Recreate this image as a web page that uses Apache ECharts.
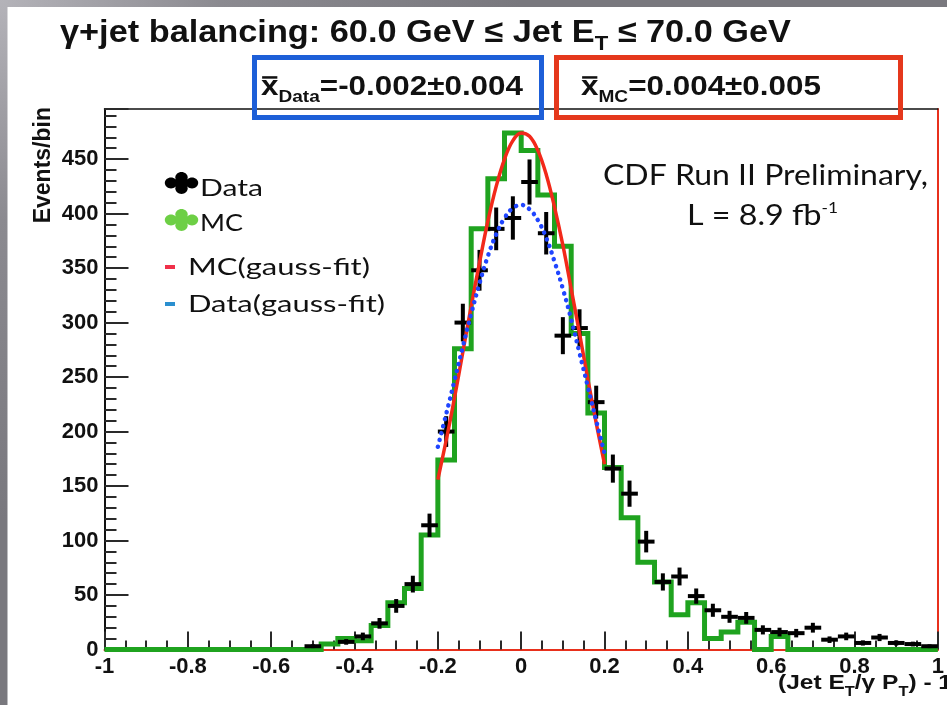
<!DOCTYPE html>
<html><head><meta charset="utf-8">
<script src="https://cdn.jsdelivr.net/npm/echarts@6/dist/echarts.min.js"></script>
<style>
html,body{margin:0;padding:0;width:947px;height:705px;overflow:hidden;
background: radial-gradient(circle at 0 0, #b4b3b9 0px, #8b8a90 220px, #79787e 520px);}
#c{position:absolute;left:0;top:0;width:947px;height:705px;}
</style></head><body><div id="c"></div>
<script>
// ---------------- data ----------------
const binCenters = [-0.98,-0.94,-0.90,-0.86,-0.82,-0.78,-0.74,-0.70,-0.66,-0.62,
  -0.58,-0.54,-0.50,-0.46,-0.42,-0.38,-0.34,-0.30,-0.26,-0.22,
  -0.18,-0.14,-0.10,-0.06,-0.02,0.02,0.06,0.10,0.14,0.18,
  0.22,0.26,0.30,0.34,0.38,0.42,0.46,0.50,0.54,0.58,
  0.62,0.66,0.70,0.74,0.78,0.82,0.86,0.90,0.94,0.98];
const binHalfWidth = 0.02;
const mcCounts = [0,0,0,0,0,0,0,0,0,0,
  0,0,0,5,10,8,22,43,56,105,
  174,276,386,432,474,458,417,370,290,217,
  167,121,80,62,32,43,10,16,25,0,
  12,0,0,0,0,0,0,0,0,0];
const dataCounts = [null,null,null,null,null,null,null,null,null,null,
  null,null,3,null,7,12,24,40,60,114,
  200,300,348,386,396,429,382,288,295,227,
  166,143,99,62,67,49,36,30,29,18,
  16,15,20,9,12,6,11,6,5,3];
const dataErrors = [null,null,null,null,null,null,null,null,null,null,
  null,null,1.7,null,2.6,3.5,4.9,6.3,7.7,10.7,
  14.1,17.3,18.7,19.6,19.9,20.7,19.5,17.0,17.2,15.1,
  12.9,12.0,9.9,7.9,8.2,7.0,6.0,5.5,5.4,4.2,
  4.0,3.9,4.5,3.0,3.5,2.4,3.3,2.4,2.2,1.7];
const fitX = [-0.20,-0.18,-0.16,-0.14,-0.12,-0.10,-0.08,-0.06,-0.04,-0.02,0.00,
  0.02,0.04,0.06,0.08,0.10,0.12,0.14,0.16,0.18,0.20];
const mcFit = [156,192,231,273,315,355,393,425,450,467,474,471,458,436,406,371,331,290,248,208,170];
const dataFit = [186,216,247,278,308,336,361,381,396,405,408,404,394,378,356,331,303,272,241,210,180];
const xTickLabels = ['-1','-0.8','-0.6','-0.4','-0.2','0','0.2','0.4','0.6','0.8','1'];
const yTickLabels = ['0','50','100','150','200','250','300','350','400','450'];

// ---------------- text helpers ----------------
const mctx = document.createElement('canvas').getContext('2d');
function fontStr(p){ return (p.weight||'normal')+' '+p.size+'px '+(p.family||'"Liberation Sans"'); }
function tw(p){ mctx.font = fontStr(p); return mctx.measureText(p.t).width; }
function textRun(parts, o){
  const widths = parts.map(tw);
  const total = widths.reduce((a,b)=>a+b,0);
  const s = o.width ? o.width/total : (o.scale||1);
  let x0 = o.x;
  if (o.align==='center') x0 -= total*s/2; else if (o.align==='right') x0 -= total*s;
  const children = []; let cx = 0;
  parts.forEach((p,i)=>{
    children.push({type:'text', x:cx, y:o.baseline + (p.dy||0) - 0.31*p.size,
      style:{text:p.t, font:fontStr(p), fill:p.fill||o.fill||'#111', align:'left', verticalAlign:'middle'}});
    if (o.overline===i){
      const yb = o.baseline - 0.52*p.size - 4;
      children.push({type:'line', shape:{x1:cx+1, y1:yb, x2:cx+widths[i]-1, y2:yb}, style:{stroke:'#111', lineWidth:2.5}});
    }
    cx += widths[i];
  });
  return {type:'group', x:x0, y:0, scaleX:s, scaleY:1, z:20, children};
}
function clover(cx, cy, color){
  const lobes = [[-10.5,0],[10.5,0],[0,-5.6],[0,5.6]];
  const ch = lobes.map(l=>({type:'ellipse', shape:{cx:cx+l[0], cy:cy+l[1], rx:6.2, ry:5.4}, style:{fill:color}}));
  ch.push({type:'rect', shape:{x:cx-6, y:cy-4, width:12, height:8}, style:{fill:color}});
  return {type:'group', z:20, children:ch};
}

const LATO = 'Lato';
const graphics = [
  {type:'rect', z:-10, shape:{x:7.5, y:7, width:940, height:698}, style:{fill:'#ffffff'}},
  textRun([{t:'γ+jet balancing: 60.0 GeV ≤ Jet E', size:31, weight:'bold'},
           {t:'T', size:20, weight:'bold', dy:8},
           {t:' ≤ 70.0 GeV', size:31, weight:'bold'}], {x:60, baseline:43, width:731}),
  {type:'rect', z:19, shape:{x:254.5, y:57.5, width:287, height:60}, style:{fill:'none', stroke:'#1d5fd8', lineWidth:5}},
  {type:'rect', z:19, shape:{x:556.5, y:57.5, width:344, height:60}, style:{fill:'none', stroke:'#e5381c', lineWidth:5}},
  textRun([{t:'x', size:28, weight:'bold'}, {t:'Data', size:17, weight:'bold', dy:7},
           {t:'=-0.002±0.004', size:28, weight:'bold'}], {x:261, baseline:96, width:262, overline:0}),
  textRun([{t:'x', size:28, weight:'bold'}, {t:'MC', size:17, weight:'bold', dy:7},
           {t:'=0.004±0.005', size:28, weight:'bold'}], {x:581, baseline:96, width:240, overline:0}),
  // legend
  clover(181.5, 183, '#000000'),
  clover(181.5, 220, '#6dcf45'),
  {type:'rect', z:20, shape:{x:165, y:265, width:10, height:4}, style:{fill:'#f0304a'}},
  {type:'rect', z:20, shape:{x:165, y:302, width:10, height:4}, style:{fill:'#2a8fcf'}},
  textRun([{t:'Data', size:24, family:LATO}], {x:200, baseline:196, width:63}),
  textRun([{t:'MC', size:24, family:LATO}], {x:200, baseline:231, width:43}),
  textRun([{t:'MC(gauss-fit)', size:24, family:LATO}], {x:188, baseline:275, width:182}),
  textRun([{t:'Data(gauss-fit)', size:24, family:LATO}], {x:188, baseline:312, width:197}),
  // CDF label
  textRun([{t:'CDF Run II Preliminary,', size:28, family:LATO}], {x:765.5, baseline:185, width:325, align:'center'}),
  textRun([{t:'L = 8.9 fb', size:28, family:LATO}, {t:'-1', size:15, family:LATO, dy:-12}], {x:687, baseline:225, width:151}),
  // axis titles
  textRun([{t:'(Jet E', size:21, weight:'bold'}, {t:'T', size:14, weight:'bold', dy:6},
           {t:'/γ P', size:21, weight:'bold'}, {t:'T', size:14, weight:'bold', dy:6},
           {t:') - 1', size:21, weight:'bold'}], {x:778, baseline:690, width:174}),
  {type:'text', z:20, x:44, y:107, rotation:Math.PI/2,
   style:{text:'Events/bin', font:'bold 23px "Liberation Sans"', fill:'#111', align:'right', verticalAlign:'middle'}}
];

// ---------------- chart ----------------
const chart = echarts.init(document.getElementById('c'), null, {renderer:'canvas'});
const mcStep = binCenters.map((c,i)=>[c-binHalfWidth, mcCounts[i]]);
mcStep.push([binCenters[binCenters.length-1]+binHalfWidth, mcCounts[mcCounts.length-1]]);
const dataPts = [];
binCenters.forEach((c,i)=>{ if (dataCounts[i]!=null) dataPts.push([c, dataCounts[i], dataErrors[i]]); });

const tickStyle = {color:'#2a2a2a', width:2};
const labelStyle = {fontSize:22, fontWeight:'bold', fontFamily:'"Liberation Sans", Arial, sans-serif', color:'#111'};

chart.setOption({
  animation:false,
  backgroundColor:'transparent',
  grid:{left:104.5, right:2, top:109, bottom:55.5},
  xAxis:[{
    type:'value', min:-1, max:1, interval:0.2, position:'bottom',
    axisLine:{show:true, onZero:false, lineStyle:{color:'#e8301c', width:2}},
    axisTick:{show:true, inside:true, length:18, lineStyle:tickStyle},
    minorTick:{show:true, splitNumber:4, length:9, lineStyle:tickStyle},
    axisLabel:Object.assign({margin:6, formatter:v=>xTickLabels[Math.round((v+1)/0.2)]}, labelStyle),
    splitLine:{show:false}
  },{
    type:'value', min:-1, max:1, position:'top',
    axisLine:{show:true, onZero:false, lineStyle:{color:'#111', width:1.5}},
    axisTick:{show:false}, axisLabel:{show:false}, splitLine:{show:false}
  }],
  yAxis:[{
    type:'value', min:0, max:496, interval:50,
    axisLine:{show:true, onZero:false, lineStyle:{color:'#111', width:2}},
    axisTick:{show:true, inside:true, length:24, lineStyle:tickStyle},
    minorTick:{show:true, splitNumber:5, length:12, lineStyle:tickStyle},
    axisLabel:Object.assign({margin:6, showMaxLabel:false, formatter:v=>{const k=Math.round(v/50); return (Math.abs(v-k*50)<1e-6 && yTickLabels[k]) ? yTickLabels[k] : '';}}, labelStyle),
    splitLine:{show:false}
  },{
    type:'value', min:0, max:496, position:'right',
    axisLine:{show:true, onZero:false, lineStyle:{color:'#e8301c', width:2}},
    axisTick:{show:false}, axisLabel:{show:false}, splitLine:{show:false}
  }],
  series:[
    {name:'MC', type:'line', step:'end', data:mcStep, showSymbol:false, z:2,
     lineStyle:{color:'#1fa31f', width:5, join:'miter'}},
    {name:'Data', type:'custom', z:3, data:dataPts,
     renderItem:function(params, api){
       const x = api.value(0), y = api.value(1), e = api.value(2);
       const l = api.coord([x-binHalfWidth, y]), r = api.coord([x+binHalfWidth, y]);
       const t = api.coord([x, y+e]), b = api.coord([x, y-e]);
       return {type:'group', children:[
         {type:'line', shape:{x1:l[0], y1:l[1], x2:r[0], y2:r[1]}, style:{stroke:'#000', lineWidth:4}},
         {type:'line', shape:{x1:t[0], y1:t[1], x2:b[0], y2:b[1]}, style:{stroke:'#000', lineWidth:4}}
       ]};
     }},
    {name:'MC(gauss-fit)', type:'line', data:fitX.map((x,i)=>[x, mcFit[i]]), smooth:0.4, showSymbol:false, z:4,
     lineStyle:{color:'#f2291a', width:3.5}},
    {name:'Data(gauss-fit)', type:'line', data:fitX.map((x,i)=>[x, dataFit[i]]), smooth:0.4, showSymbol:false, z:5,
     lineStyle:{color:'#1f45ff', width:4.5, type:[0.1, 7], cap:'round'}}
  ],
  graphic:{elements:graphics}
});
</script></body></html>
